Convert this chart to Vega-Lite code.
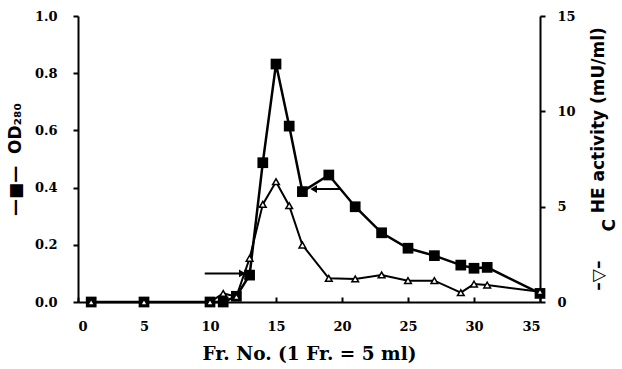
{
  "$schema": "https://vega.github.io/schema/vega-lite/v6.json",
  "autosize": {"type": "none"},
  "width": 462,
  "height": 286,
  "padding": {"left": 78, "top": 16, "right": 82, "bottom": 67},
  "background": "white",
  "config": {"view": {"stroke": null}, "axis": {"grid": false, "domainColor": "black", "tickColor": "black", "labelColor": "black", "titleColor": "black", "domainWidth": 2, "tickWidth": 2}},
  "datasets": {
    "od": [
      {"fr": 1, "od": 0}, {"fr": 5, "od": 0}, {"fr": 10, "od": 0}, {"fr": 11, "od": 0},
      {"fr": 12, "od": 0.02}, {"fr": 13, "od": 0.094}, {"fr": 14, "od": 0.487}, {"fr": 15, "od": 0.832},
      {"fr": 16, "od": 0.615}, {"fr": 17, "od": 0.386}, {"fr": 19, "od": 0.444}, {"fr": 21, "od": 0.333},
      {"fr": 23, "od": 0.242}, {"fr": 25, "od": 0.188}, {"fr": 27, "od": 0.162}, {"fr": 29, "od": 0.129},
      {"fr": 30, "od": 0.118}, {"fr": 31, "od": 0.121}, {"fr": 35, "od": 0.03}
    ],
    "he": [
      {"fr": 1, "he": 0}, {"fr": 5, "he": 0}, {"fr": 10, "he": 0}, {"fr": 11, "he": 0.45},
      {"fr": 12, "he": 0.28}, {"fr": 13, "he": 2.29}, {"fr": 14, "he": 5.12}, {"fr": 15, "he": 6.31},
      {"fr": 16, "he": 5.05}, {"fr": 17, "he": 2.99}, {"fr": 19, "he": 1.24}, {"fr": 21, "he": 1.21},
      {"fr": 23, "he": 1.42}, {"fr": 25, "he": 1.12}, {"fr": 27, "he": 1.12}, {"fr": 29, "he": 0.49},
      {"fr": 30, "he": 0.94}, {"fr": 31, "he": 0.89}, {"fr": 35, "he": 0.54}
    ],
    "arrows": [
      {"fr": 9.6, "fr2": 12.45, "od": 0.1, "head": "triangle-right", "hx": 12.45},
      {"fr": 19.9, "fr2": 17.85, "od": 0.395, "head": "triangle-left", "hx": 17.85}
    ]
  },
  "layer": [
    {
      "layer": [
        {
          "data": {"name": "od"},
          "mark": {"type": "line", "color": "black", "strokeWidth": 2.5},
          "encoding": {
            "x": {"field": "fr", "type": "quantitative", "scale": {"domain": [0, 35], "nice": false},
              "axis": {"values": [0, 5, 10, 15, 20, 25, 30, 35], "title": "Fr. No. (1 Fr. = 5 ml)", "titleFont": "DejaVu Serif", "titleFontWeight": "bold", "titleFontSize": 18.5, "titlePadding": 11, "labelFont": "DejaVu Serif", "labelFontWeight": "bold", "labelFontSize": 13, "tickSize": -5, "labelPadding": 23}},
            "y": {"field": "od", "type": "quantitative", "scale": {"domain": [0, 1], "nice": false},
              "axis": {"orient": "left", "values": [0, 0.2, 0.4, 0.6, 0.8, 1.0], "format": ".1f", "title": "—■—\u00a0\u00a0OD₂₈₀", "titleFont": "DejaVu Sans", "titleFontWeight": "bold", "titleFontSize": 17, "titlePadding": 10, "labelFont": "DejaVu Serif", "labelFontWeight": "bold", "labelFontSize": 13, "tickSize": 5, "labelPadding": 16}}
          }
        },
        {
          "data": {"name": "od"},
          "mark": {"type": "point", "shape": "square", "filled": true, "color": "black", "size": 115, "opacity": 1},
          "encoding": {
            "x": {"field": "fr", "type": "quantitative"},
            "y": {"field": "od", "type": "quantitative"}
          }
        },
        {
          "data": {"name": "arrows"},
          "mark": {"type": "rule", "color": "black", "strokeWidth": 2},
          "encoding": {
            "x": {"field": "fr", "type": "quantitative"},
            "x2": {"field": "fr2"},
            "y": {"field": "od", "type": "quantitative"}
          }
        },
        {
          "data": {"name": "arrows"},
          "mark": {"type": "point", "filled": true, "color": "black", "size": 60, "opacity": 1},
          "encoding": {
            "x": {"field": "hx", "type": "quantitative"},
            "y": {"field": "od", "type": "quantitative"},
            "shape": {"field": "head", "type": "nominal", "scale": {"domain": ["triangle-right", "triangle-left"], "range": ["triangle-right", "triangle-left"]}, "legend": null}
          }
        }
      ]
    },
    {
      "layer": [
        {
          "data": {"name": "he"},
          "mark": {"type": "line", "color": "black", "strokeWidth": 2},
          "encoding": {
            "x": {"field": "fr", "type": "quantitative"},
            "y": {"field": "he", "type": "quantitative", "scale": {"domain": [0, 15], "nice": false},
              "axis": {"orient": "right", "values": [0, 5, 10, 15], "title": ["\u200b\u00a0\u00a0–▽–\u00a0\u00a0\u00a0\u00a0\u00a0\u00a0\u00a0\u00a0HE activity (mU/ml)", "\u200b\u00a0\u00a0\u00a0\u00a0\u00a0\u00a0\u00a0\u00a0\u00a0\u00a0\u00a0\u00a0C"], "titleAngle": 270, "titleAnchor": "start", "titleAlign": "left", "titleBaseline": "top", "titleFont": "DejaVu Sans", "titleFontWeight": "bold", "titleFontSize": 17, "titleLineHeight": 11, "titlePadding": 4, "labelFont": "DejaVu Serif", "labelFontWeight": "bold", "labelFontSize": 13, "tickSize": 5, "labelPadding": 12}}
          }
        },
        {
          "data": {"name": "he"},
          "mark": {"type": "point", "shape": "triangle-up", "filled": true, "fill": "white", "stroke": "black", "strokeWidth": 1.5, "size": 45, "opacity": 1},
          "encoding": {
            "x": {"field": "fr", "type": "quantitative"},
            "y": {"field": "he", "type": "quantitative"}
          }
        }
      ]
    }
  ],
  "resolve": {"scale": {"y": "independent"}}
}
